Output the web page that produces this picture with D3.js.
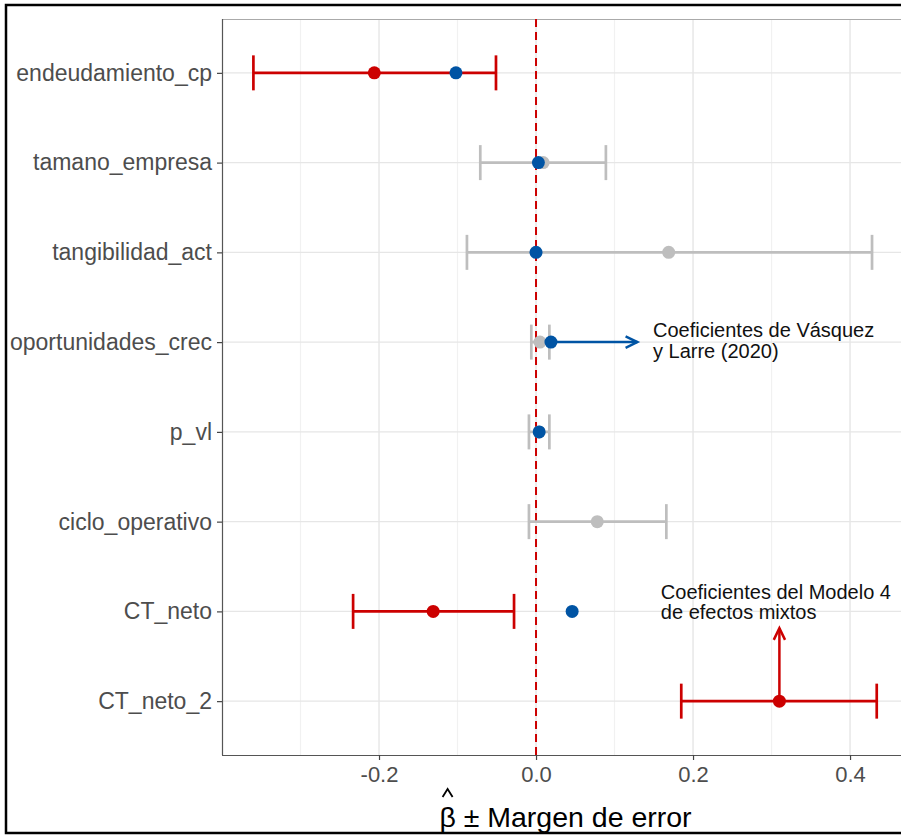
<!DOCTYPE html>
<html>
<head>
<meta charset="utf-8">
<script src="https://cdn.jsdelivr.net/npm/d3@7"></script>
<style>
  body { margin: 0; background: #fff; }
  svg { display: block; font-family: "Liberation Sans", Arial, sans-serif; }
</style>
</head>
<body>
<svg id="chart" width="901" height="835"></svg>
<script>
// variables del modelo (de arriba hacia abajo)
const variables = ["endeudamiento_cp", "tamano_empresa", "tangibilidad_act", "oportunidades_crec",
                   "p_vl", "ciclo_operativo", "CT_neto", "CT_neto_2"];

// coeficientes del Modelo 4 de efectos mixtos
const beta4 = [-0.206, 0.009, 0.169, 0.005, 0.004, 0.078, -0.131, 0.310];
const lower4 = [-0.360, -0.071, -0.088, -0.006, -0.009, -0.009, -0.233, 0.185];
const upper4 = [-0.051, 0.089, 0.428, 0.017, 0.017, 0.166, -0.028, 0.434];
const signif4 = [true, false, false, false, false, false, true, true];

// coeficientes de Vásquez y Larre (2020)
const betaVL = [-0.102, 0.003, 0.000, 0.019, 0.004, null, 0.046, null];

const xTicks = [-0.2, 0.0, 0.2, 0.4];
const xMinor = [-0.3, -0.1, 0.1, 0.3];

const rojo = "#CC0000", azul = "#0054A4", gris = "#BEBEBE";

const svg = d3.select("#chart");

const pLeft = 222, pTop = 19, pBottom = 755, pRight = 905;

const x = d3.scaleLinear([-0.4, 0.47], [pLeft, pRight]);
const y = d3.scalePoint(variables, [pTop, pBottom]).padding(0.6);

const datos = variables.map((v, i) => ({
    v: v, b: beta4[i], lo: lower4[i], hi: upper4[i], sig: signif4[i], vl: betaVL[i]
}));

// marco exterior
svg.append("rect")
    .attr("x", 6).attr("y", 5)
    .attr("width", 910).attr("height", 828)
    .attr("fill", "white")
    .attr("stroke", "black")
    .attr("stroke-width", 2.5);

const panel = svg.append("g");

// grilla
panel.selectAll(".minor")
    .data(xMinor)
    .join("line")
    .attr("x1", d => x(d)).attr("x2", d => x(d))
    .attr("y1", pTop).attr("y2", pBottom)
    .attr("stroke", "#F1F1F1").attr("stroke-width", 1.2);

panel.selectAll(".major")
    .data(xTicks)
    .join("line")
    .attr("x1", d => x(d)).attr("x2", d => x(d))
    .attr("y1", pTop).attr("y2", pBottom)
    .attr("stroke", "#E6E6E6").attr("stroke-width", 1.4);

panel.selectAll(".hgrid")
    .data(variables)
    .join("line")
    .attr("x1", pLeft).attr("x2", pRight)
    .attr("y1", d => y(d)).attr("y2", d => y(d))
    .attr("stroke", "#E6E6E6").attr("stroke-width", 1.4);

// borde del panel
panel.append("line")
    .attr("x1", pLeft).attr("x2", pRight)
    .attr("y1", pTop + 0.5).attr("y2", pTop + 0.5)
    .attr("stroke", "#AAAAAA").attr("stroke-width", 1.2);

// línea en cero
panel.append("line")
    .attr("x1", x(0)).attr("x2", x(0))
    .attr("y1", pTop).attr("y2", pBottom)
    .attr("stroke", rojo)
    .attr("stroke-width", 2)
    .attr("stroke-dasharray", "8,5");

// barras de error
const eb = panel.selectAll(".eb")
    .data(datos)
    .join("g")
    .attr("stroke", d => d.sig ? rojo : gris)
    .attr("stroke-width", 2.7)
    .attr("fill", "none");

eb.append("line")
    .attr("x1", d => x(d.lo)).attr("x2", d => x(d.hi))
    .attr("y1", d => y(d.v)).attr("y2", d => y(d.v));
eb.append("line")
    .attr("x1", d => x(d.lo)).attr("x2", d => x(d.lo))
    .attr("y1", d => y(d.v) - 17.5).attr("y2", d => y(d.v) + 17.5);
eb.append("line")
    .attr("x1", d => x(d.hi)).attr("x2", d => x(d.hi))
    .attr("y1", d => y(d.v) - 17.5).attr("y2", d => y(d.v) + 17.5);

panel.selectAll(".p4")
    .data(datos)
    .join("circle")
    .attr("cx", d => x(d.b))
    .attr("cy", d => y(d.v))
    .attr("r", 6.5)
    .attr("fill", d => d.sig ? rojo : gris);

panel.selectAll(".pvl")
    .data(datos.filter(d => d.vl !== null))
    .join("circle")
    .attr("cx", d => x(d.vl))
    .attr("cy", d => y(d.v))
    .attr("r", 6.5)
    .attr("fill", azul);

// flechas y anotaciones
function flecha(g, x1, y1, x2, y2, color) {
    const ang = Math.atan2(y2 - y1, x2 - x1);
    const L = 13, a = Math.PI / 7;
    g.append("line")
        .attr("x1", x1).attr("y1", y1).attr("x2", x2).attr("y2", y2)
        .attr("stroke", color).attr("stroke-width", 2.5);
    g.append("path")
        .attr("d", d3.line()([
            [x2 - L * Math.cos(ang - a), y2 - L * Math.sin(ang - a)],
            [x2, y2],
            [x2 - L * Math.cos(ang + a), y2 - L * Math.sin(ang + a)]
        ]))
        .attr("fill", "none").attr("stroke", color).attr("stroke-width", 2.5)
        .attr("stroke-linejoin", "miter");
}

const anot = svg.append("g");
const yOp = y("oportunidades_crec");
flecha(anot, x(0.019), yOp, x(0.129), yOp, azul);

const t1 = anot.append("text")
    .attr("x", x(0.149)).attr("y", yOp - 5)
    .attr("font-size", 20).attr("fill", "#111");
t1.append("tspan").text("Coeficientes de Vásquez");
t1.append("tspan").attr("x", x(0.149)).attr("dy", 21).text("y Larre (2020)");

const yCT2 = y("CT_neto_2");
flecha(anot, x(0.310), yCT2, x(0.310), yCT2 - 73, rojo);

const t2 = anot.append("text")
    .attr("x", x(0.159)).attr("y", y("CT_neto") - 12)
    .attr("font-size", 20).attr("fill", "#111");
t2.append("tspan").text("Coeficientes del Modelo 4");
t2.append("tspan").attr("x", x(0.159)).attr("dy", 20).text("de efectos mixtos");

// ejes
const fmt = d => d3.format(".1f")(d).replace("−", "-");

const ax = svg.append("g")
    .attr("transform", `translate(0,${pBottom})`)
    .call(d3.axisBottom(x).tickValues(xTicks).tickFormat(fmt).tickSize(5).tickPadding(6))
    .call(g => g.select(".domain").attr("stroke", "#555").attr("stroke-width", 1.2).attr("d", `M${pLeft},0.5H${pRight}`));
ax.selectAll(".tick line").attr("stroke", "#444").attr("stroke-width", 1.2);
ax.selectAll("text").attr("font-size", 22).attr("fill", "#4D4D4D").attr("font-family", "Liberation Sans, Arial, sans-serif");

const ay = svg.append("g")
    .attr("transform", `translate(${pLeft},0)`)
    .call(d3.axisLeft(y).tickSize(5).tickPadding(5))
    .call(g => g.select(".domain").attr("stroke", "#555").attr("stroke-width", 1.2).attr("d", `M0.5,${pTop}V${pBottom}`));
ay.selectAll(".tick line").attr("stroke", "#444").attr("stroke-width", 1.2);
ay.selectAll("text").attr("font-size", 23).attr("fill", "#4D4D4D").attr("font-family", "Liberation Sans, Arial, sans-serif");

// título del eje x con el sombrero sobre beta
const titulo = svg.append("text")
    .attr("x", (pLeft + pRight) / 2 + 2)
    .attr("y", 827)
    .attr("text-anchor", "middle")
    .attr("font-size", 28.5)
    .attr("fill", "black")
    .text("β ± Margen de error");

const ext = titulo.node().getExtentOfChar(0);
const cxHat = ext.x + ext.width / 2;
svg.append("path")
    .attr("d", d3.line()([[cxHat - 5, 797], [cxHat, 789], [cxHat + 5, 797]]))
    .attr("fill", "none")
    .attr("stroke", "black")
    .attr("stroke-width", 1.8);
</script>
</body>
</html>
